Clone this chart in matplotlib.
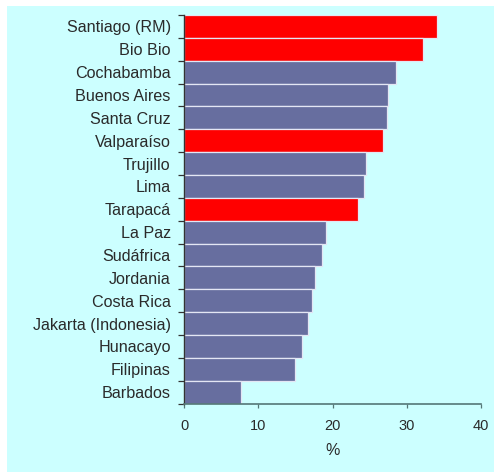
import matplotlib
matplotlib.use("Agg")
import matplotlib.pyplot as plt
from matplotlib.patches import Rectangle

categories = ["Santiago (RM)", "Bio Bio", "Cochabamba", "Buenos Aires", "Santa Cruz",
              "Valparaíso", "Trujillo", "Lima", "Tarapacá", "La Paz", "Sudáfrica",
              "Jordania", "Costa Rica", "Jakarta (Indonesia)", "Hunacayo", "Filipinas",
              "Barbados"]
values = [34.1, 32.2, 28.6, 27.5, 27.3, 26.8, 24.5, 24.2, 23.5, 19.1, 18.6,
          17.6, 17.3, 16.7, 15.9, 15.0, 7.7]
highlight = [True, True, False, False, False, True, False, False, True, False, False,
             False, False, False, False, False, False]
xticks = [0, 10, 20, 30, 40]
xlabel = "%"

plt.rcParams['font.family'] = ['Liberation Sans', 'DejaVu Sans']

W, H = 494, 472
fig = plt.figure(figsize=(W / 100, H / 100), dpi=100, facecolor='white')
bg = Rectangle((7 / W, 0), 1 - 7 / W, (H - 6) / H, transform=fig.transFigure,
               facecolor='#ccffff', edgecolor='none', zorder=-10)
fig.patches.append(bg)

ax = fig.add_axes([184 / W, (H - 403.5) / H, (481 - 184) / W, (403.5 - 15) / H])
ax.set_facecolor('none')
ax.set_zorder(5)

colors = ['#ff0000' if h else '#676e9f' for h in highlight]
ypos = list(range(len(categories)))
ax.barh(ypos, values, height=1.0, color=colors, edgecolor='#e4e6f4', linewidth=0.9, zorder=2)

ax.set_ylim(len(categories) - 0.5, -0.5)
ax.set_xlim(0, 40)
ax.set_yticks(ypos)
ax.set_yticklabels(categories, fontsize=11.6, color='#2a2a2a')
ax.set_yticks([i - 0.5 for i in range(len(categories) + 1)], minor=True)
ax.tick_params(axis='y', which='major', length=0, pad=9.6)
ax.tick_params(axis='y', which='minor', length=4, width=0.9, color='#333333')
ax.set_xticks(xticks)
ax.set_xticklabels([str(t) for t in xticks], fontsize=10.5, color='#2a2a2a')
ax.tick_params(axis='x', length=3, width=0.9, color='#557777', pad=8.5)
ax.set_xlabel(xlabel, fontsize=11.5, color='#2a2a2a', labelpad=7)

for s in ['top', 'right']:
    ax.spines[s].set_visible(False)
ax.spines['left'].set_color('#333333')
ax.spines['left'].set_linewidth(1.0)
ax.spines['bottom'].set_color('#557777')
ax.spines['bottom'].set_linewidth(1.2)

fig.savefig("out.png", dpi=100, facecolor=fig.get_facecolor())
